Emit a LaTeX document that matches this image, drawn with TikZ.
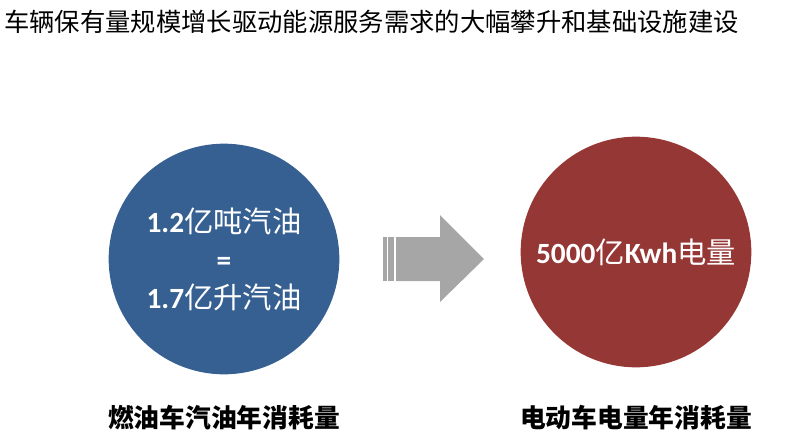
\documentclass[tikz,border=0pt]{standalone}
\usepackage{fontspec}
\setmainfont{Carlito}
\newfontfamily\cjk{Noto Sans CJK SC}
\usetikzlibrary{positioning}
\definecolor{oilBlue}{HTML}{376092}
\definecolor{powerRed}{HTML}{953735}
\definecolor{arrowGray}{HTML}{A6A6A6}

\begin{document}
\begin{tikzpicture}[x=0.75pt, y=-0.75pt,
  every node/.style={text=black},
  bigcircle/.style={circle, inner sep=0pt, minimum size=173pt, draw=none,
                    text=white, align=center,
                    font=\fontsize{22}{28.5}\selectfont},
  caption/.style={font=\cjk\bfseries\fontsize{19.3}{22}\selectfont, inner sep=0pt}]

  \useasboundingbox (0,0) rectangle (789,447);

  %% title
  \node[anchor=west, inner sep=0pt, font=\cjk\fontsize{19}{22}\selectfont]
      (title) at (4,22) {车辆保有量规模增长驱动能源服务需求的大幅攀升和基础设施建设};

  %% two circles
  \node[bigcircle, fill=oilBlue] (oil) at (224,259)
      {\textbf{1.2}{\cjk 亿吨汽油}\\ \textbf{=}\\ \textbf{1.7}{\cjk 亿升汽油}};
  \node[bigcircle, fill=powerRed] (power) at (636,252)
      {\textbf{5000}{\cjk 亿}\textbf{Kwh}{\cjk 电量}};

  %% captions
  \node[caption] (oilcap) at (224,418) {燃油车汽油年消耗量};
  \node[caption] (powercap) at (636,418) {电动车电量年消耗量};

  %% arrow with striped tail
  \fill[arrowGray] (383,237) rectangle (386.7,281);
  \fill[arrowGray] (388.3,237) rectangle (394,281);
  \fill[arrowGray] (396,237) -- (440,237) -- (440,215) -- (484,259)
      -- (440,302) -- (440,281) -- (396,281) -- cycle;

\end{tikzpicture}
\end{document}
